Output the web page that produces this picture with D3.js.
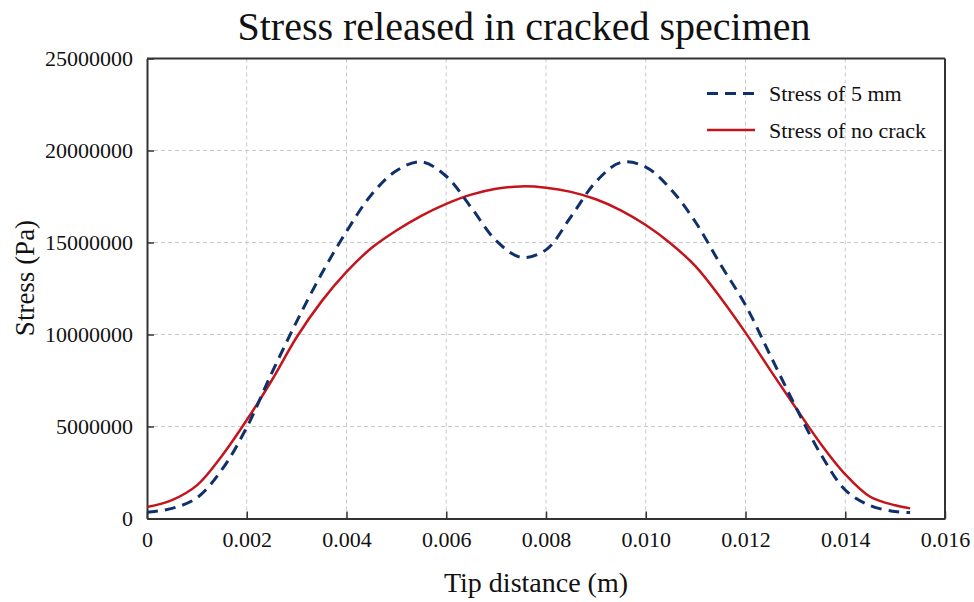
<!DOCTYPE html>
<html>
<head>
<meta charset="utf-8">
<script src="https://cdn.jsdelivr.net/npm/d3@7"></script>
<style>
  body { margin: 0; background: #fff; }
  svg { display: block; font-family: "Liberation Serif", "Times New Roman", serif; }
</style>
</head>
<body>
<div id="chart"></div>
<script>
// tip distance (m)
const distance = [0, 0.0005, 0.001, 0.0015, 0.002, 0.0025, 0.003, 0.0035, 0.004, 0.0045,
  0.005, 0.0055, 0.006, 0.0065, 0.007, 0.0075, 0.008, 0.0085, 0.009, 0.0095,
  0.010, 0.0105, 0.011, 0.0115, 0.012, 0.0125, 0.013, 0.0135, 0.014, 0.0145, 0.015, 0.0153];

// stress (Pa)
const stress5mm = [0.34e6, 0.55e6, 1.12e6, 2.65e6, 4.95e6, 7.9e6, 10.7e6, 13.3e6, 15.6e6, 17.6e6,
  18.9e6, 19.38e6, 18.6e6, 16.9e6, 15.1e6, 14.2e6, 14.6e6, 16.4e6, 18.3e6, 19.35e6,
  19.1e6, 17.9e6, 16.1e6, 13.8e6, 11.6e6, 8.85e6, 6.1e6, 3.54e6, 1.55e6, 0.7e6, 0.38e6, 0.32e6];

const stressNoCrack = [0.62e6, 1.0e6, 1.8e6, 3.4e6, 5.35e6, 7.5e6, 9.85e6, 11.8e6, 13.4e6, 14.7e6,
  15.65e6, 16.45e6, 17.1e6, 17.6e6, 17.92e6, 18.05e6, 17.98e6, 17.75e6, 17.35e6, 16.75e6,
  15.95e6, 14.95e6, 13.7e6, 12.0e6, 10.1e6, 8.05e6, 6.05e6, 4.09e6, 2.4e6, 1.18e6, 0.72e6, 0.55e6];

const xTicks = [0, 0.002, 0.004, 0.006, 0.008, 0.010, 0.012, 0.014, 0.016];
const yTicks = [0, 5000000, 10000000, 15000000, 20000000, 25000000];
const seriesNames = ['Stress of 5 mm', 'Stress of no crack'];

const W = 974, H = 602;
const margin = { top: 58.5, right: 29, bottom: 83.5, left: 147 };
const width = W - margin.left - margin.right,
  height = H - margin.top - margin.bottom;

const svg = d3.select('#chart').append('svg')
  .attr('width', W)
  .attr('height', H);

const g = svg.append('g')
  .attr('transform', 'translate(' + margin.left + ',' + margin.top + ')');

const x = d3.scaleLinear().domain([0, 0.016]).range([0, width]);
const y = d3.scaleLinear().domain([0, 25000000]).range([height, 0]);

// grid
g.append('g').selectAll('line')
  .data(xTicks.slice(1, -1))
  .enter().append('line')
  .attr('x1', d => x(d)).attr('x2', d => x(d))
  .attr('y1', 0).attr('y2', height)
  .attr('stroke', '#c9c9c9').attr('stroke-width', 1).attr('stroke-dasharray', '4,3');

g.append('g').selectAll('line')
  .data(yTicks.slice(1, -1))
  .enter().append('line')
  .attr('x1', 0).attr('x2', width)
  .attr('y1', d => y(d)).attr('y2', d => y(d))
  .attr('stroke', '#c9c9c9').attr('stroke-width', 1).attr('stroke-dasharray', '4,3');

// axes, ticks pointing inward
const xAxis = g.append('g')
  .attr('transform', 'translate(0,' + height + ')')
  .call(d3.axisBottom(x).tickValues(xTicks).tickSizeInner(-7).tickSizeOuter(0)
    .tickPadding(16).tickFormat(d => d === 0 ? '0' : d3.format('.3f')(d)));

const yAxis = g.append('g')
  .call(d3.axisLeft(y).tickValues(yTicks).tickSizeInner(-7).tickSizeOuter(0)
    .tickPadding(14).tickFormat(d3.format('d')));

[xAxis, yAxis].forEach(a => {
  a.select('.domain').attr('stroke', '#333').attr('stroke-width', 2);
  a.selectAll('.tick line').attr('stroke', '#333').attr('stroke-width', 1.5);
  a.selectAll('.tick text').attr('fill', '#111')
    .style('font-size', '22px').style('font-family', '"Liberation Serif", serif');
});
xAxis.selectAll('.tick text').attr('dy', '0.71em').attr('y', 13);

// frame top / right
g.append('line').attr('x1', 0).attr('x2', width).attr('y1', 0).attr('y2', 0)
  .attr('stroke', '#333').attr('stroke-width', 2);
g.append('line').attr('x1', width).attr('x2', width).attr('y1', 0).attr('y2', height)
  .attr('stroke', '#333').attr('stroke-width', 2);

// curves
const line = (vals) => d3.line()
  .x((d, i) => x(distance[i]))
  .y(d => y(d))
  .curve(d3.curveCatmullRom.alpha(0.5))(vals);

g.append('path')
  .attr('d', line(stressNoCrack))
  .attr('fill', 'none')
  .attr('stroke', '#c4141c')
  .attr('stroke-width', 2.5);

g.append('path')
  .attr('d', line(stress5mm))
  .attr('fill', 'none')
  .attr('stroke', '#10306c')
  .attr('stroke-width', 3)
  .attr('stroke-dasharray', '11,7');

// legend
const legend = svg.append('g').attr('transform', 'translate(707,0)');
const legStyles = [
  { color: '#10306c', dash: '11,7', w: 3, y: 93.5 },
  { color: '#c4141c', dash: null, w: 2.5, y: 130 }
];
legStyles.forEach((s, i) => {
  legend.append('line')
    .attr('x1', 0).attr('x2', 48).attr('y1', s.y).attr('y2', s.y)
    .attr('stroke', s.color).attr('stroke-width', s.w)
    .attr('stroke-dasharray', s.dash);
  legend.append('text')
    .attr('x', 62).attr('y', s.y + 7.5)
    .attr('fill', '#111')
    .style('font-size', '22px')
    .text(seriesNames[i]);
});

// title and axis labels
svg.append('text')
  .attr('x', 524).attr('y', 40)
  .attr('text-anchor', 'middle')
  .attr('fill', '#111')
  .style('font-size', '40px')
  .text('Stress released in cracked specimen');

svg.append('text')
  .attr('x', 536).attr('y', 592)
  .attr('text-anchor', 'middle')
  .attr('fill', '#111')
  .style('font-size', '28px')
  .text('Tip distance (m)');

svg.append('text')
  .attr('transform', 'translate(34,278) rotate(-90)')
  .attr('text-anchor', 'middle')
  .attr('fill', '#111')
  .style('font-size', '27px')
  .text('Stress (Pa)');
</script>
</body>
</html>
